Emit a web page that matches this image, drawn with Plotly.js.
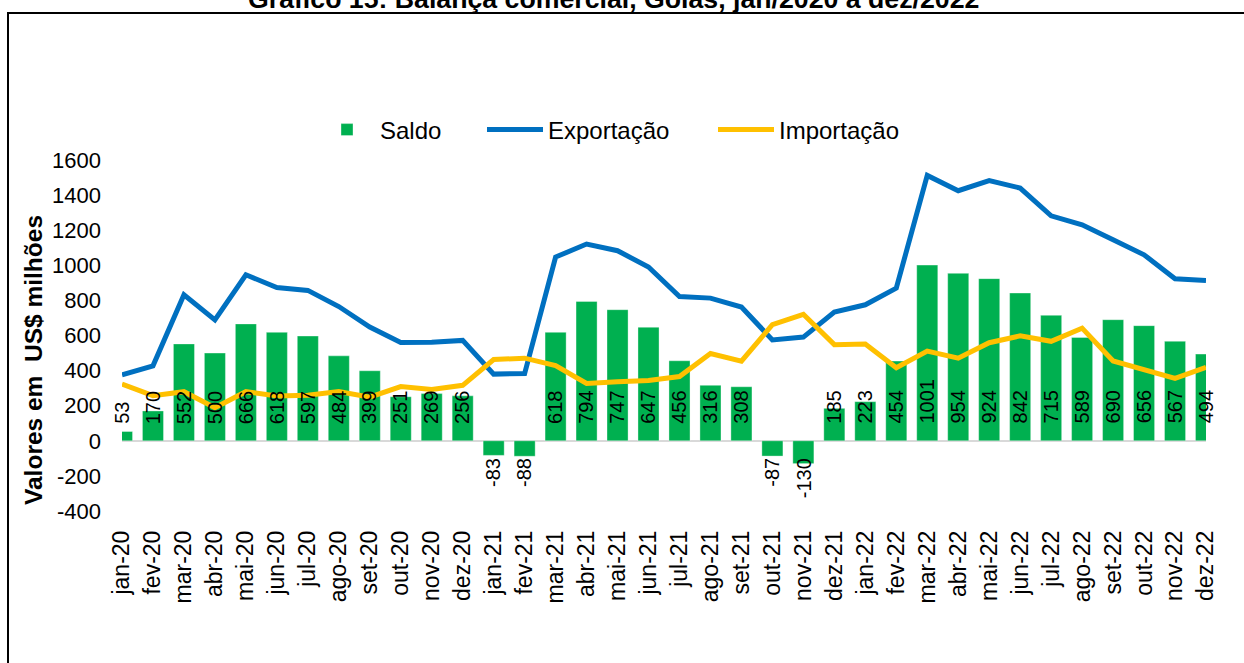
<!DOCTYPE html>
<html>
<head>
<meta charset="utf-8">
<script src="https://cdn.plot.ly/plotly-3.0.1.min.js"></script>
<style>
  html, body { margin: 0; padding: 0; background: #fff; }
  #chart { width: 1244px; height: 663px; }
</style>
</head>
<body>
<div id="chart"></div>
<script>
// ---- Data ----
const months = [
  "jan-20","fev-20","mar-20","abr-20","mai-20","jun-20","jul-20","ago-20","set-20","out-20","nov-20","dez-20",
  "jan-21","fev-21","mar-21","abr-21","mai-21","jun-21","jul-21","ago-21","set-21","out-21","nov-21","dez-21",
  "jan-22","fev-22","mar-22","abr-22","mai-22","jun-22","jul-22","ago-22","set-22","out-22","nov-22","dez-22"
];
const saldo = [
  53, 170, 552, 500, 666, 618, 597, 484, 399, 251, 269, 256,
  -83, -88, 618, 794, 747, 647, 456, 316, 308, -87, -130, 185,
  223, 454, 1001, 954, 924, 842, 715, 589, 690, 656, 567, 494
];
const exportacao = [
  376, 427, 832, 689, 946, 873, 857, 765, 648, 560, 562, 572,
  380, 383, 1047, 1121, 1083, 990, 822, 813, 762, 575, 591, 733,
  775, 870, 1512, 1425, 1483, 1440, 1282, 1231, 1145, 1060, 923, 913
];
const importacao = [
  323, 257, 280, 189, 280, 255, 260, 281, 249, 309, 293, 316,
  463, 471, 429, 327, 336, 343, 366, 497, 454, 662, 721, 548,
  552, 416, 511, 471, 559, 598, 567, 642, 455, 404, 356, 419
];
const yTicks = [-400, -200, 0, 200, 400, 600, 800, 1000, 1200, 1400, 1600];

const chartTitle = "Gráfico 15: Balança comercial, Goiás, jan/2020 a dez/2022";
const yTitle = "Valores em  US$ milhões";

// ---- Layout geometry (pixels) ----
const W = 1244, H = 663;
const M = { l: 122, r: 38, t: 160, b: 152 };
const pw = W - M.l - M.r, ph = H - M.t - M.b;
const px2x = p => (p - M.l) / pw;
const py2y = p => (H - M.b - p) / ph;

const FONT = "Liberation Sans, Arial, Helvetica, sans-serif";

const traces = [
  {
    type: "bar", name: "Saldo", x: months, y: saldo,
    width: 0.68, legend: "legend",
    marker: { color: "#00B050", line: { color: "rgba(255,255,255,0.35)", width: 1 } }
  },
  {
    type: "scatter", mode: "lines", name: "Exportação", x: months, y: exportacao,
    legend: "legend2",
    line: { color: "#0070C0", width: 5 }
  },
  {
    type: "scatter", mode: "lines", name: "Importação", x: months, y: importacao,
    legend: "legend3",
    line: { color: "#FFC000", width: 5 }
  }
];

// data labels for Saldo: anchored at the base, rotated
const labelAnnotations = saldo.map((v, i) => ({
  x: months[i], y: 0, xref: "x", yref: "y",
  text: String(v), showarrow: false, textangle: -90,
  xanchor: "center",
  yanchor: v >= 0 ? "bottom" : "top",
  yshift: v >= 0 ? 15 : -15,
  font: { family: FONT, size: 20, color: "#000" }
}));

function legendAt(leftPx) {
  return {
    orientation: "h", x: px2x(leftPx), xanchor: "left",
    y: py2y(130), yanchor: "middle",
    font: { family: FONT, size: 24, color: "#000" },
    bgcolor: "rgba(0,0,0,0)", borderwidth: 0, itemwidth: 56
  };
}

const layout = {
  width: W, height: H,
  margin: M,
  paper_bgcolor: "#fff", plot_bgcolor: "rgba(0,0,0,0)",
  font: { family: FONT, color: "#000", size: 22 },
  showlegend: true,
  legend: legendAt(314),
  legend2: legendAt(482),
  legend3: legendAt(713),
  xaxis: {
    type: "category", range: [0, months.length - 1],
    tickangle: -90, showgrid: false, showline: false, zeroline: false,
    ticks: "", ticklabelstandoff: 14,
    tickfont: { family: FONT, size: 23, color: "#000" },
    fixedrange: true
  },
  yaxis: {
    range: [-400, 1600], tickvals: yTicks, ticktext: yTicks.map(String),
    showgrid: false, showline: false,
    zeroline: true, zerolinecolor: "#D9D9D9", zerolinewidth: 2.5,
    ticks: "", ticklabelstandoff: 20,
    tickfont: { family: FONT, size: 22, color: "#000" },
    fixedrange: true
  },
  shapes: [
    {
      type: "rect", xref: "paper", yref: "paper",
      x0: px2x(8), x1: px2x(W + 20), y0: py2y(H + 20), y1: py2y(13),
      line: { color: "#000", width: 2 }, fillcolor: "rgba(0,0,0,0)", layer: "below"
    }
  ],
  annotations: [
    {
      xref: "paper", yref: "paper", x: px2x(613), y: py2y(-1),
      xanchor: "center", yanchor: "middle", showarrow: false,
      text: "<b>" + chartTitle + "</b>",
      font: { family: FONT, size: 26.7, color: "#000" }
    },
    {
      xref: "paper", yref: "paper", x: px2x(33), y: py2y(360),
      xanchor: "center", yanchor: "middle", textangle: -90, showarrow: false,
      text: "<b>" + yTitle + "</b>",
      font: { family: FONT, size: 24.5, color: "#000" }
    }
  ].concat(labelAnnotations)
};

Plotly.newPlot("chart", traces, layout, { displayModeBar: false, staticPlot: true });
</script>
</body>
</html>
